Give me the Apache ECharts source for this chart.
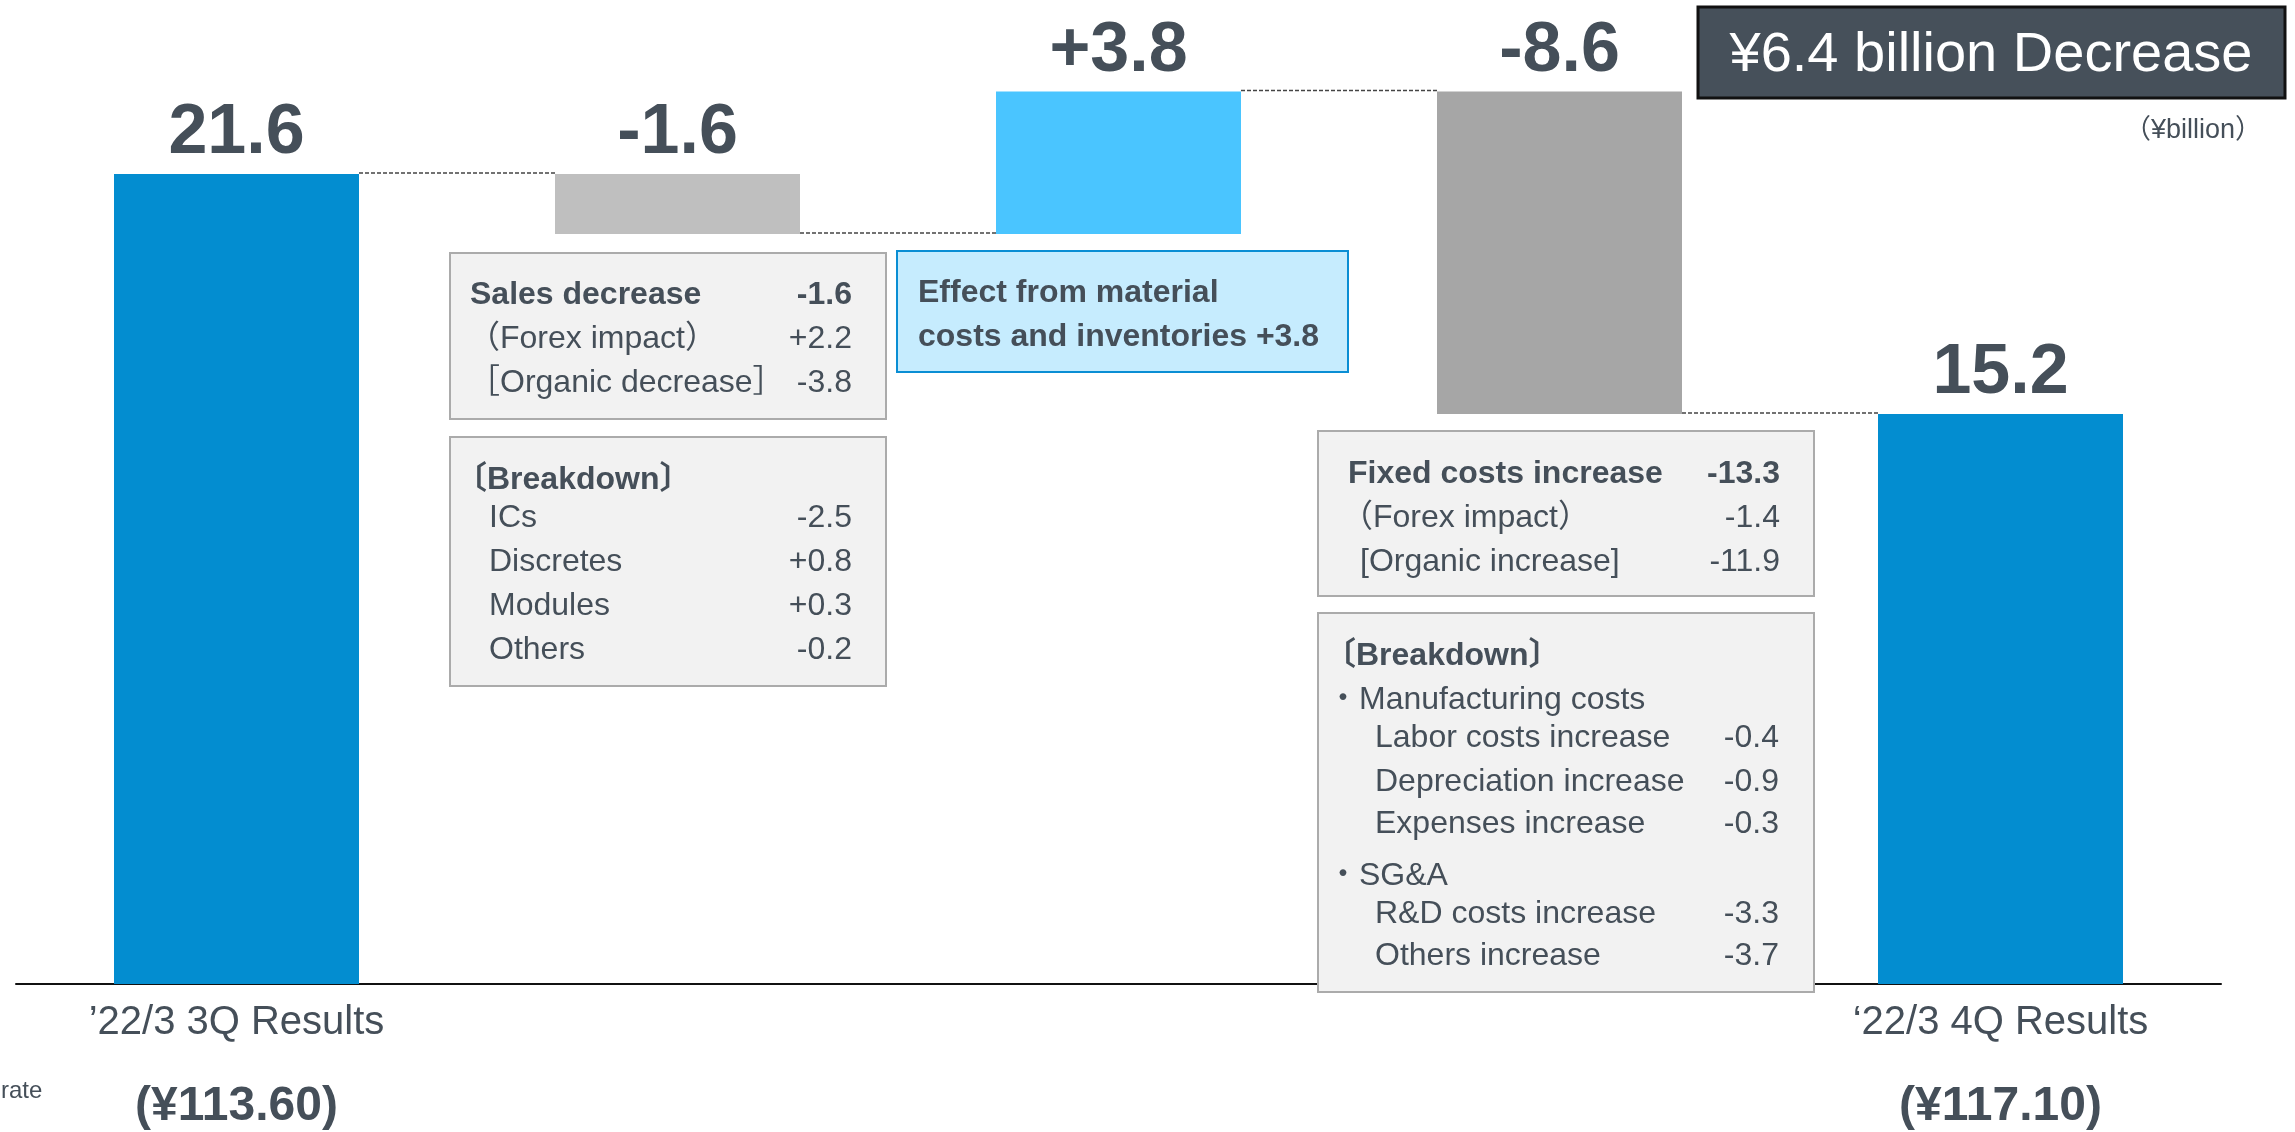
<!DOCTYPE html>
<html>
<head>
<meta charset="utf-8">
<script src="https://cdn.jsdelivr.net/npm/echarts@6.0.0/dist/echarts.min.js"></script>
<style>
  body { margin: 0; background: #fff; }
  #chart { width: 2295px; height: 1132px; }
</style>
</head>
<body>
<div id="chart"></div>
<script>
// values (¥billion)
const categories = ['’22/3 3Q Results', '', '', '', '‘22/3 4Q Results'];
const rates = ['(¥113.60)', '', '', '', '(¥117.10)'];
const startValue = 21.6;
const deltas = [-1.6, 3.8, -8.6];
const endValue = 15.2;
const barColors = ['#038DD0', '#BFBFBF', '#4AC5FF', '#A6A6A6', '#038DD0'];

// annotation boxes
const salesItems = ['Sales decrease', '（Forex impact）', '［Organic decrease］'];
const salesValues = ['-1.6', '+2.2', '-3.8'];
const salesBreakItems = ['〔Breakdown〕', 'ICs', 'Discretes', 'Modules', 'Others'];
const salesBreakValues = ['', '-2.5', '+0.8', '+0.3', '-0.2'];
const materialLines = ['Effect from material', 'costs and inventories +3.8'];
const fixedItems = ['Fixed costs increase', '（Forex impact）', '[Organic increase]'];
const fixedValues = ['-13.3', '-1.4', '-11.9'];
const fixedBreakItems = ['〔Breakdown〕', '・Manufacturing costs', 'Labor costs increase', 'Depreciation increase',
  'Expenses increase', '・SG&A', 'R&D costs increase', 'Others increase'];
const fixedBreakValues = ['', '', '-0.4', '-0.9', '-0.3', '', '-3.3', '-3.7'];
const totalText = '¥6.4 billion Decrease';
const unitText = '（¥billion）';

const FONT = '"Liberation Sans", Arial, "Noto Sans CJK JP", sans-serif';
const TEXT = '#454F59';

// waterfall: invisible base + visible part
const base = [0];
const heights = [startValue];
const levels = [startValue];
let level = startValue;
deltas.forEach(d => {
  base.push(d < 0 ? level + d : level);
  heights.push(Math.abs(d));
  level += d;
  levels.push(level);
});
base.push(0);
heights.push(endValue);

function barLabel(i) {
  if (i === 0) return startValue.toFixed(1);
  if (i === categories.length - 1) return endValue.toFixed(1);
  const d = deltas[i - 1];
  return (d > 0 ? '+' : '') + d.toFixed(1);
}

function txt(x, y, text, opt) {
  opt = opt || {};
  return {
    type: 'text', x: x, y: y, z: 101,
    style: {
      text: text,
      fill: opt.fill || TEXT,
      fontSize: opt.size || 32,
      fontWeight: opt.bold ? 'bold' : 'normal',
      fontFamily: FONT,
      align: opt.align || 'left',
      verticalAlign: 'middle'
    }
  };
}

function box(x, y, w, h, fill, stroke) {
  return {
    type: 'rect', z: 100,
    shape: { x: x, y: y, width: w, height: h },
    style: { fill: fill, stroke: stroke, lineWidth: 2 }
  };
}

const graphics = [];
const dy = 3;

// box A: sales decrease
graphics.push(box(450, 253, 436, 166, '#F2F2F2', '#ABABAB'));
[[470, 292], [468, 336], [468, 380]].forEach((p, i) => {
  graphics.push(txt(p[0], p[1] + dy, salesItems[i], { bold: i === 0 }));
  graphics.push(txt(852, p[1] + dy, salesValues[i], { bold: i === 0, align: 'right' }));
});

// box B: sales breakdown
graphics.push(box(450, 437, 436, 249, '#F2F2F2', '#ABABAB'));
[[455, 477], [489, 515], [489, 559], [489, 603], [489, 647]].forEach((p, i) => {
  graphics.push(txt(p[0], p[1] + dy, salesBreakItems[i], { bold: i === 0 }));
  if (salesBreakValues[i]) graphics.push(txt(852, p[1] + dy, salesBreakValues[i], { align: 'right' }));
});

// box C: material costs
graphics.push(box(897, 251, 451, 121, '#C6ECFE', '#0A8ED4'));
graphics.push(txt(918, 290 + dy, materialLines[0], { bold: true }));
graphics.push(txt(918, 334 + dy, materialLines[1], { bold: true }));

// box D: fixed costs
graphics.push(box(1318, 431, 496, 165, '#F2F2F2', '#ABABAB'));
[[1348, 471], [1341, 515], [1360, 559]].forEach((p, i) => {
  graphics.push(txt(p[0], p[1] + dy, fixedItems[i], { bold: i === 0 }));
  graphics.push(txt(1780, p[1] + dy, fixedValues[i], { bold: i === 0, align: 'right' }));
});

// box E: fixed cost breakdown
graphics.push(box(1318, 613, 496, 379, '#F2F2F2', '#ABABAB'));
[[1324, 653], [1327, 697], [1375, 735], [1375, 779], [1375, 821], [1327, 873], [1375, 911], [1375, 953]]
  .forEach((p, i) => {
    graphics.push(txt(p[0], p[1] + dy, fixedBreakItems[i], { bold: i === 0 }));
    if (fixedBreakValues[i]) graphics.push(txt(1779, p[1] + dy, fixedBreakValues[i], { align: 'right' }));
  });

// headline box
graphics.push({
  type: 'rect', z: 100,
  shape: { x: 1698, y: 7, width: 587, height: 91 },
  style: { fill: '#46505A', stroke: '#111', lineWidth: 3 }
});
graphics.push(txt(1991, 56, totalText, { size: 56, fill: '#fff', align: 'center' }));
graphics.push(txt(2262, 131, unitText, { size: 27, align: 'right' }));
graphics.push(txt(1, 1091, 'rate', { size: 24 }));

const chart = echarts.init(document.getElementById('chart'));
chart.setOption({
  animation: false,
  grid: { left: 16, right: 74, top: 9, bottom: 148 },
  xAxis: {
    type: 'category',
    data: categories,
    axisLine: { lineStyle: { color: '#111', width: 2 } },
    axisTick: { show: false },
    axisLabel: {
      interval: 0,
      margin: 14,
      formatter: (v, i) => v ? '{a|' + v + '}\n{b|' + rates[i] + '}' : '',
      rich: {
        a: { fontSize: 40, lineHeight: 50, color: TEXT, fontFamily: FONT },
        b: { fontSize: 48, lineHeight: 118, color: TEXT, fontWeight: 'bold', fontFamily: FONT }
      }
    }
  },
  yAxis: {
    type: 'value', min: 0, max: 26, show: false,
    splitLine: { show: false }
  },
  series: [
    {
      type: 'bar', stack: 'w', barWidth: 245, silent: true,
      itemStyle: { color: 'transparent' },
      data: base
    },
    {
      type: 'bar', stack: 'w', barWidth: 245,
      data: heights.map((h, i) => ({ value: h, itemStyle: { color: barColors[i] } })),
      label: {
        show: true, position: 'top', distance: 5,
        formatter: p => barLabel(p.dataIndex),
        fontSize: 70, fontWeight: 'bold', color: TEXT, fontFamily: FONT
      }
    },
    {
      // dashed connectors between bar ends
      type: 'custom',
      silent: true,
      data: levels.map((v, i) => [i, v]),
      renderItem: (params, api) => {
        const i = api.value(0);
        const y = api.value(1);
        const a = api.coord([i, y]);
        const b = api.coord([i + 1, y]);
        return {
          type: 'line',
          shape: { x1: a[0] + 122.5, y1: a[1] - 1, x2: b[0] - 122.5, y2: b[1] - 1 },
          style: { stroke: '#444', lineWidth: 1.5, lineDash: [4, 2] }
        };
      }
    }
  ],
  graphic: graphics
});
</script>
</body>
</html>
